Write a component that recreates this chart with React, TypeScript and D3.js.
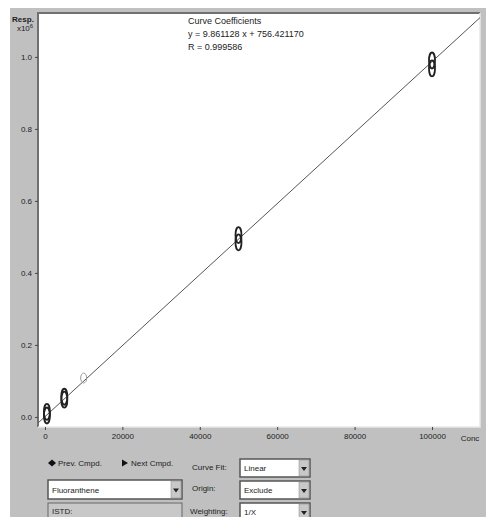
import React, { useEffect, useRef } from "react";
import * as d3 from "d3";

// calibration levels (Conc) and replicate responses (x10^6)
const levels = [500, 5000, 10000, 50000, 100000];
const replicates = [
  [0.004, 0.014],
  [0.048, 0.056],
  [0.108],
  [0.485, 0.505],
  [0.968, 0.99],
];
const slope = 9.861128;
const intercept = 756.42117;
const yTicks = [0, 0.2, 0.4, 0.6, 0.8, 1.0];
const xTicks = [0, 20000, 40000, 60000, 80000, 100000];
const coefLines = ["Curve Coefficients", "y = 9.861128 x + 756.421170", "R = 0.999586"];

const W = 486;
const H = 517;

export default function App() {
  const ref = useRef<SVGSVGElement>(null);

  useEffect(() => {
    const svg = d3.select(ref.current);
    svg.selectAll("*").remove();
    const font = "'Liberation Sans', Arial, sans-serif";

    // grey dialog panel
    svg.append("rect").attr("x", 10).attr("y", 8).attr("width", W - 10).attr("height", H - 8).attr("fill", "#c0c0c0");

    const plot = { left: 38, right: 480, top: 13, bottom: 427 };
    const x = d3.scaleLinear().domain([-1800, 112400]).range([plot.left, plot.right]);
    const y = d3.scaleLinear().domain([-0.028, 1.122]).range([plot.bottom, plot.top]);

    // plot area with sunken frame
    svg.append("rect")
      .attr("x", plot.left).attr("y", plot.top)
      .attr("width", plot.right - plot.left).attr("height", plot.bottom - plot.top)
      .attr("fill", "#ffffff");
    svg.append("path")
      .attr("d", `M${plot.left},${plot.bottom} V${plot.top} H${plot.right}`)
      .attr("fill", "none").attr("stroke", "#707070").attr("stroke-width", 2);
    svg.append("path")
      .attr("d", `M${plot.right},${plot.top} V${plot.bottom} H${plot.left}`)
      .attr("fill", "none").attr("stroke", "#e8e8e8").attr("stroke-width", 1.5);

    const yAxis = svg.append("g").attr("transform", `translate(${plot.left},0)`)
      .call(d3.axisLeft(y).tickValues(yTicks).tickSize(3).tickFormat(d3.format(".1f")));
    yAxis.select(".domain").remove();
    yAxis.selectAll("text").attr("font-family", font).attr("font-size", 8).attr("fill", "#222");
    yAxis.selectAll("line").attr("stroke", "#444");

    const xAxis = svg.append("g").attr("transform", `translate(0,${plot.bottom})`)
      .call(d3.axisBottom(x).tickValues(xTicks).tickSize(3).tickFormat(d3.format("d")));
    xAxis.select(".domain").remove();
    xAxis.selectAll("text").attr("font-family", font).attr("font-size", 8).attr("fill", "#222");
    xAxis.selectAll("line").attr("stroke", "#444");

    svg.append("text").attr("x", 470).attr("y", 441).attr("text-anchor", "middle")
      .attr("font-family", font).attr("font-size", 8).attr("fill", "#222").text("Conc");
    svg.append("text").attr("x", 23).attr("y", 22).attr("text-anchor", "middle")
      .attr("font-family", font).attr("font-size", 8).attr("font-weight", "bold").attr("fill", "#222").text("Resp.");
    const ex = svg.append("text").attr("x", 25).attr("y", 31).attr("text-anchor", "middle")
      .attr("font-family", font).attr("font-size", 8).attr("fill", "#222");
    ex.append("tspan").text("x10");
    ex.append("tspan").attr("dy", -3).attr("font-size", 6).text("6");

    // regression line
    const fit = (c: number) => (slope * c + intercept) / 1e6;
    const xd = x.domain();
    svg.append("line")
      .attr("x1", x(xd[0])).attr("y1", y(fit(xd[0])))
      .attr("x2", x(xd[1])).attr("y2", y(fit(xd[1])))
      .attr("stroke", "#555").attr("stroke-width", 1);

    // replicate markers
    const pts = levels.flatMap((c, i) => replicates[i].map((r) => ({ c, r })));
    svg.append("g").selectAll("ellipse").data(pts).enter().append("ellipse")
      .attr("cx", (d) => x(d.c)).attr("cy", (d) => y(d.r))
      .attr("rx", 3).attr("ry", (d) => (d.c === 10000 ? 5 : 8))
      .attr("fill", "none").attr("stroke", (d) => (d.c === 10000 ? "#999" : "#222"))
      .attr("stroke-width", (d) => (d.c === 10000 ? 1 : 1.8));

    // coefficient text
    svg.append("g").selectAll("text").data(coefLines).enter().append("text")
      .attr("x", 188).attr("y", (_, i) => 24 + i * 13)
      .attr("font-family", font).attr("font-size", 9).attr("fill", "#222")
      .text((d) => d);

    // dialog controls
    const label = (tx: number, ty: number, s: string) =>
      svg.append("text").attr("x", tx).attr("y", ty).attr("font-family", font)
        .attr("font-size", 8).attr("fill", "#222").text(s);
    const combo = (bx: number, by: number, bw: number, bh: number, s: string) => {
      svg.append("rect").attr("x", bx).attr("y", by).attr("width", bw).attr("height", bh)
        .attr("fill", "#fff").attr("stroke", "#555").attr("stroke-width", 1.5);
      svg.append("rect").attr("x", bx + bw - 11).attr("y", by + 1).attr("width", 10).attr("height", bh - 2)
        .attr("fill", "#c8c8c8").attr("stroke", "#888").attr("stroke-width", 0.5);
      svg.append("path").attr("d", `M${bx + bw - 9},${by + bh / 2 - 1} h6 l-3,4 z`).attr("fill", "#222");
      label(bx + 4, by + bh / 2 + 3, s);
    };

    svg.append("path").attr("d", "M48,463 l4,-3.5 l4,3.5 l-4,3.5 z").attr("fill", "#111");
    label(58, 466, "Prev. Cmpd.");
    svg.append("path").attr("d", "M122,459.5 l6,3.5 l-6,3.5 z").attr("fill", "#111");
    label(131, 466, "Next Cmpd.");

    label(192, 470, "Curve Fit:");
    combo(240, 459, 70, 18, "Linear");
    label(192, 491, "Origin:");
    combo(240, 481, 70, 18, "Exclude");
    label(190, 514, "Weighting:");
    combo(240, 503, 70, 18, "1/X");

    combo(48, 480, 134, 19, "Fluoranthene");
    svg.append("rect").attr("x", 48).attr("y", 503).attr("width", 134).attr("height", 16)
      .attr("fill", "#c8c8c8").attr("stroke", "#666").attr("stroke-width", 1);
    label(52, 514, "ISTD:");
  }, []);

  return (
    <svg ref={ref} width={W} height={H} style={{ position: "absolute", left: 0, top: 0, background: "#fff" }} />
  );
}
